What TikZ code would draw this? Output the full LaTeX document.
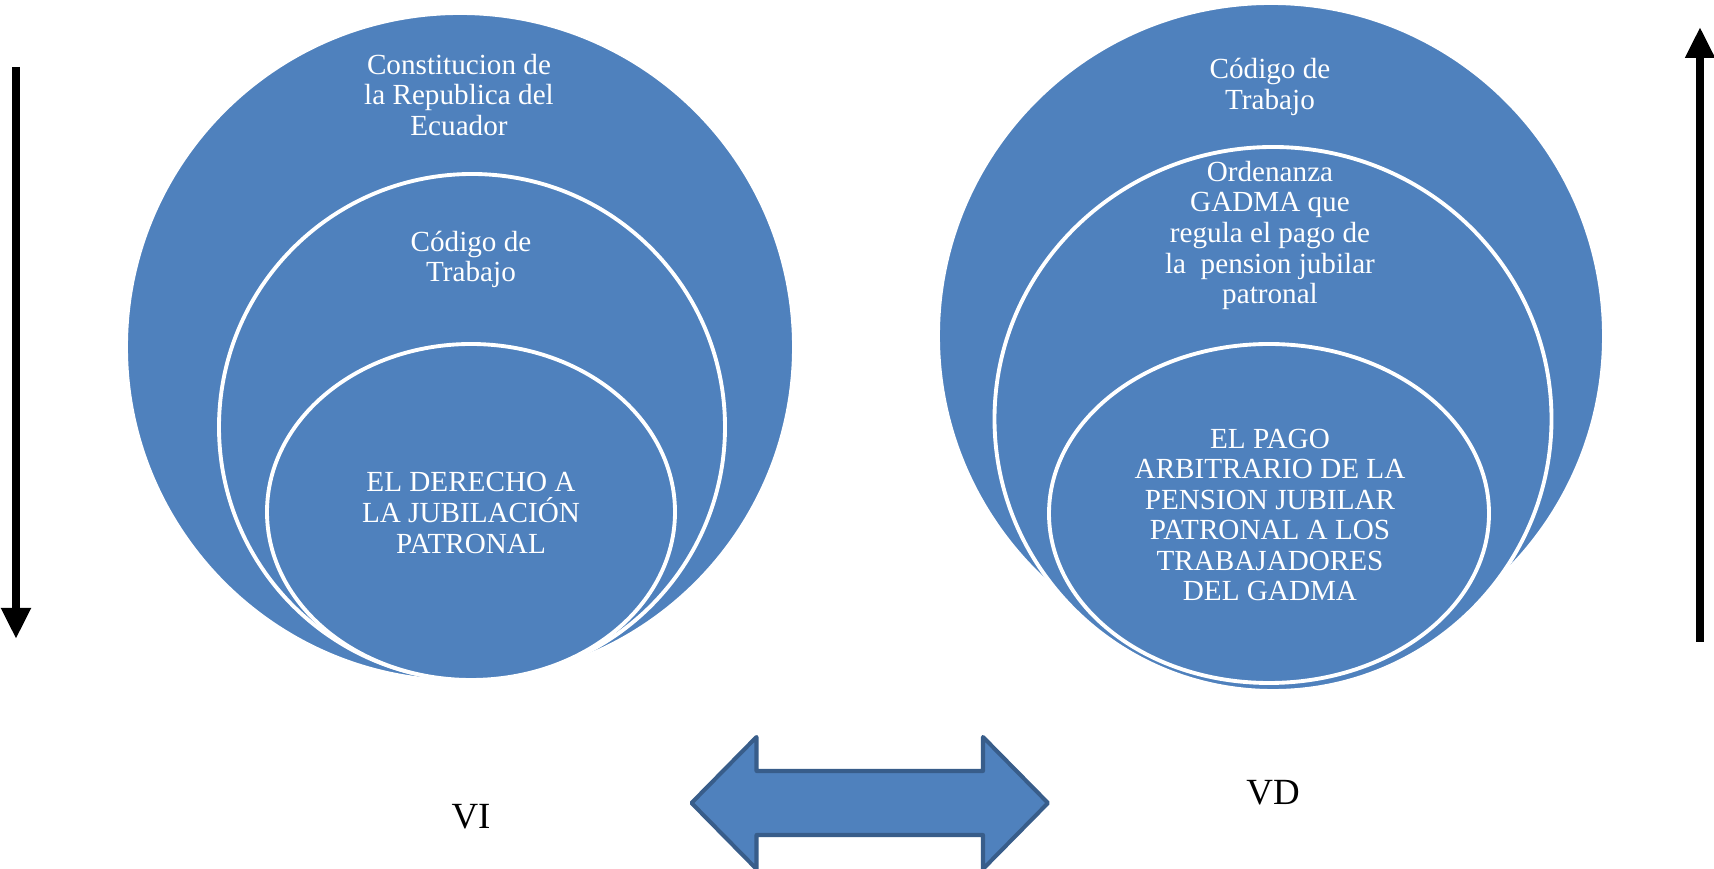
\documentclass[tikz,border=0pt]{standalone}
\usepackage{fontspec}
\setmainfont{Liberation Serif}
\usepackage{tikz}
\usetikzlibrary{arrows.meta}

\definecolor{vblue}{HTML}{4F81BD}
\definecolor{vborder}{HTML}{385D8A}

\tikzset{
  ring/.style={fill=vblue, draw=white, line width=2.2pt},
  ringtext/.style={text=white, align=center, font=\fontsize{16.6}{17.4}\selectfont},
  sidetext/.style={anchor=base, font=\fontsize{21}{24}\selectfont},
  bigarrow/.style={line width=4.5pt, -{Triangle[width=0.56cm, length=0.62cm]}}
}

\begin{document}
\begin{tikzpicture}
      \useasboundingbox (0,0) rectangle (34.28,17.38);

      % left group
      \draw[ring] (9.20,10.44) circle (6.68);
      \draw[ring] (9.44,8.84) circle (5.06);
      \draw[ring] (9.42,7.14) ellipse (4.08 and 3.36);

      \node[ringtext] (constitucion) at (9.18,15.48) {Constitucion de\\la Republica del\\Ecuador};
      \node[ringtext] (codigoleft) at (9.42,12.19) {Código de\\Trabajo};
      \node[ringtext] (derecho) at (9.42,7.12) {EL DERECHO A\\LA JUBILACIÓN\\PATRONAL};

      % right group
      \draw[ring] (25.42,10.66) circle (6.66);
      \draw[ring] (25.46,9.00) ellipse (5.57 and 5.44);
      \draw[ring] (25.38,7.11) ellipse (4.40 and 3.39);

      \node[ringtext] (codigoright) at (25.40,15.64) {Código de\\Trabajo};
      \node[ringtext] (ordenanza) at (25.40,12.67) {Ordenanza\\GADMA que\\regula el pago de\\la~ pension jubilar\\patronal};
      \node[ringtext] (pago) at (25.40,7.08) {EL PAGO\\ARBITRARIO DE LA\\PENSION JUBILAR\\PATRONAL A LOS\\TRABAJADORES\\DEL GADMA};

      % side arrows
      \coordinate (vitop) at (0.32,16.04);
      \coordinate (vibottom) at (0.32,4.60);
      \coordinate (vdbottom) at (34.00,4.54);
      \coordinate (vdtop) at (34.00,16.84);
      \draw[bigarrow] (vitop) -- (vibottom);
      \draw[bigarrow] (vdbottom) -- (vdtop);

      % double arrow
      \draw[fill=vblue, draw=vborder, line width=2.3pt, line join=round]
        (13.83,1.32) -- (15.13,2.64) -- (15.13,1.96) -- (19.66,1.96) -- (19.66,2.64)
        -- (20.96,1.32) -- (19.66,0) -- (19.66,0.68) -- (15.13,0.68) -- (15.13,0) -- cycle;

      \node[sidetext] (vi) at (9.42,0.80) {VI};
      \node[sidetext] (vd) at (25.46,1.28) {VD};
\end{tikzpicture}
\end{document}
